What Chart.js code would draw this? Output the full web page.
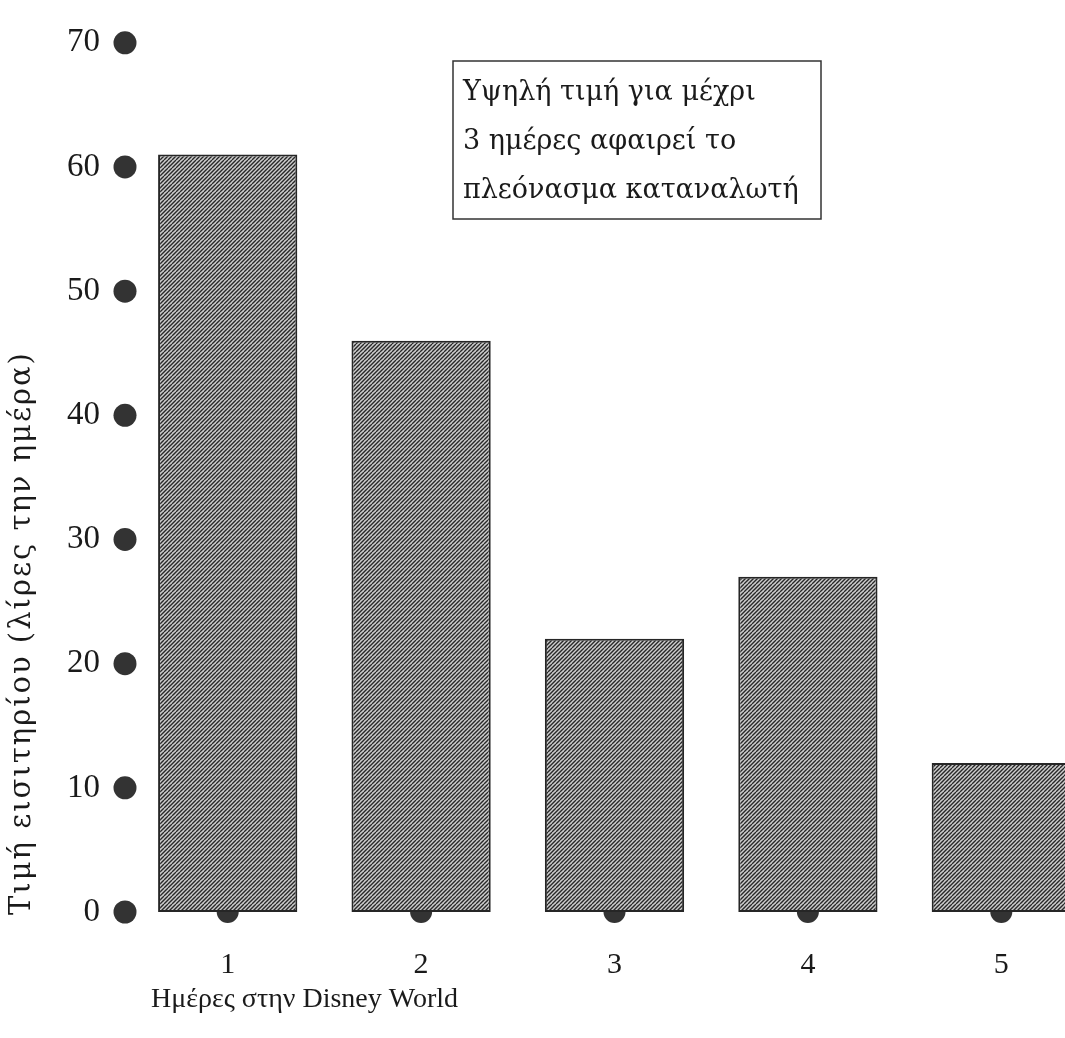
<!DOCTYPE html>
<html lang="el">
<head>
<meta charset="utf-8">
<title>Τιμή εισιτηρίου ανά ημέρα</title>
<script src="https://cdn.jsdelivr.net/npm/chart.js@4/dist/chart.umd.min.js"></script>
<style>
  html, body { margin: 0; padding: 0; background: #ffffff; }
  #wrap { width: 1065px; height: 1038px; overflow: hidden; position: relative; }
  canvas { display: block; }
</style>
</head>
<body>
<div id="wrap"><canvas id="c" width="1100" height="1038"></canvas></div>
<script>
// Days spent at the park and the ticket price per day (pounds)
const days = ['1', '2', '3', '4', '5'];
const prices = [61, 46, 22, 27, 12];
const yMin = 0;
const yMax = 70;
const yStep = 10;

const xTitle = 'Ημέρες στην Disney World';
const yTitle = 'Τιμή εισιτηρίου (λίρες την ημέρα)';
const noteLines = ['Υψηλή τιμή για μέχρι', '3 ημέρες αφαιρεί το', 'πλεόνασμα καταναλωτή'];

const SERIF = "'Liberation Serif', 'DejaVu Serif', serif";
const WIDE_SERIF = "'DejaVu Serif', 'Liberation Serif', serif";

// Diagonal hatched fill for the bars
function makeHatch() {
  const p = document.createElement('canvas');
  p.width = 8; p.height = 8;
  const g = p.getContext('2d');
  g.fillStyle = '#cdcdcd';
  g.fillRect(0, 0, 8, 8);
  g.strokeStyle = '#282828';
  g.lineWidth = 1.35;
  for (let k = -8; k <= 16; k += 4) {
    g.beginPath();
    g.moveTo(k, 8);
    g.lineTo(k + 8, 0);
    g.stroke();
  }
  return g.createPattern(p, 'repeat');
}

const ctx = document.getElementById('c').getContext('2d');
const hatch = makeHatch();

// Tick dots, axis titles and the text box
const decor = {
  id: 'decor',
  beforeDatasetsDraw(chart) {
    const g = chart.ctx;
    const area = chart.chartArea;
    const ys = chart.scales.y;
    const xs = chart.scales.x;
    g.save();
    g.fillStyle = '#333333';
    ys.ticks.forEach((t, i) => {
      const py = ys.getPixelForTick(i);
      g.beginPath();
      g.arc(area.left - 6, py, 11.5, 0, Math.PI * 2);
      g.fill();
    });
    xs.ticks.forEach((t, i) => {
      const px = xs.getPixelForTick(i);
      g.beginPath();
      g.arc(px, area.bottom, 11, 0, Math.PI * 2);
      g.fill();
    });
    g.restore();
  },
  afterDraw(chart) {
    const g = chart.ctx;
    const area = chart.chartArea;
    g.save();
    g.fillStyle = '#1a1a1a';
    g.textBaseline = 'middle';

    // x axis title
    g.font = '28px ' + SERIF;
    g.textAlign = 'left';
    g.fillText(xTitle, area.left + 20, 1000);

    // y axis title, rotated, starting at the baseline
    g.save();
    g.translate(22, area.bottom + 3);
    g.rotate(-Math.PI / 2);
    g.font = '29px ' + WIDE_SERIF;
    g.letterSpacing = '2px';
    g.textAlign = 'left';
    g.fillText(yTitle, 0, 0);
    g.restore();

    // text box
    const bx = 453, by = 61, bw = 368, bh = 158;
    g.strokeStyle = '#333333';
    g.lineWidth = 1.5;
    g.strokeRect(bx, by, bw, bh);
    g.font = '27px ' + WIDE_SERIF;
    g.textAlign = 'left';
    noteLines.forEach((line, i) => {
      g.fillText(line, bx + 10, by + 32 + i * 49);
    });
    g.restore();
  }
};

new Chart(ctx, {
  type: 'bar',
  data: {
    labels: days,
    datasets: [{
      data: prices,
      backgroundColor: hatch,
      borderColor: '#262626',
      borderWidth: 2,
      borderSkipped: false,
      categoryPercentage: 0.8,
      barPercentage: 0.9
    }]
  },
  options: {
    responsive: false,
    animation: false,
    events: [],
    layout: { padding: { top: 42, right: 2, left: 0, bottom: 0 } },
    plugins: {
      legend: { display: false },
      tooltip: { enabled: false },
      title: { display: false }
    },
    scales: {
      x: {
        grid: { display: false },
        border: { display: false },
        ticks: {
          color: '#1a1a1a',
          font: { family: SERIF, size: 30 },
          padding: 27,
          maxRotation: 0
        },
        afterFit(scale) { scale.height = 126; }
      },
      y: {
        min: yMin,
        max: yMax,
        grid: { display: false },
        border: { display: false },
        ticks: {
          stepSize: yStep,
          color: '#1a1a1a',
          font: { family: SERIF, size: 33 },
          padding: 23
        },
        afterFit(scale) { scale.width = 131; }
      }
    }
  },
  plugins: [decor]
});
</script>
</body>
</html>
